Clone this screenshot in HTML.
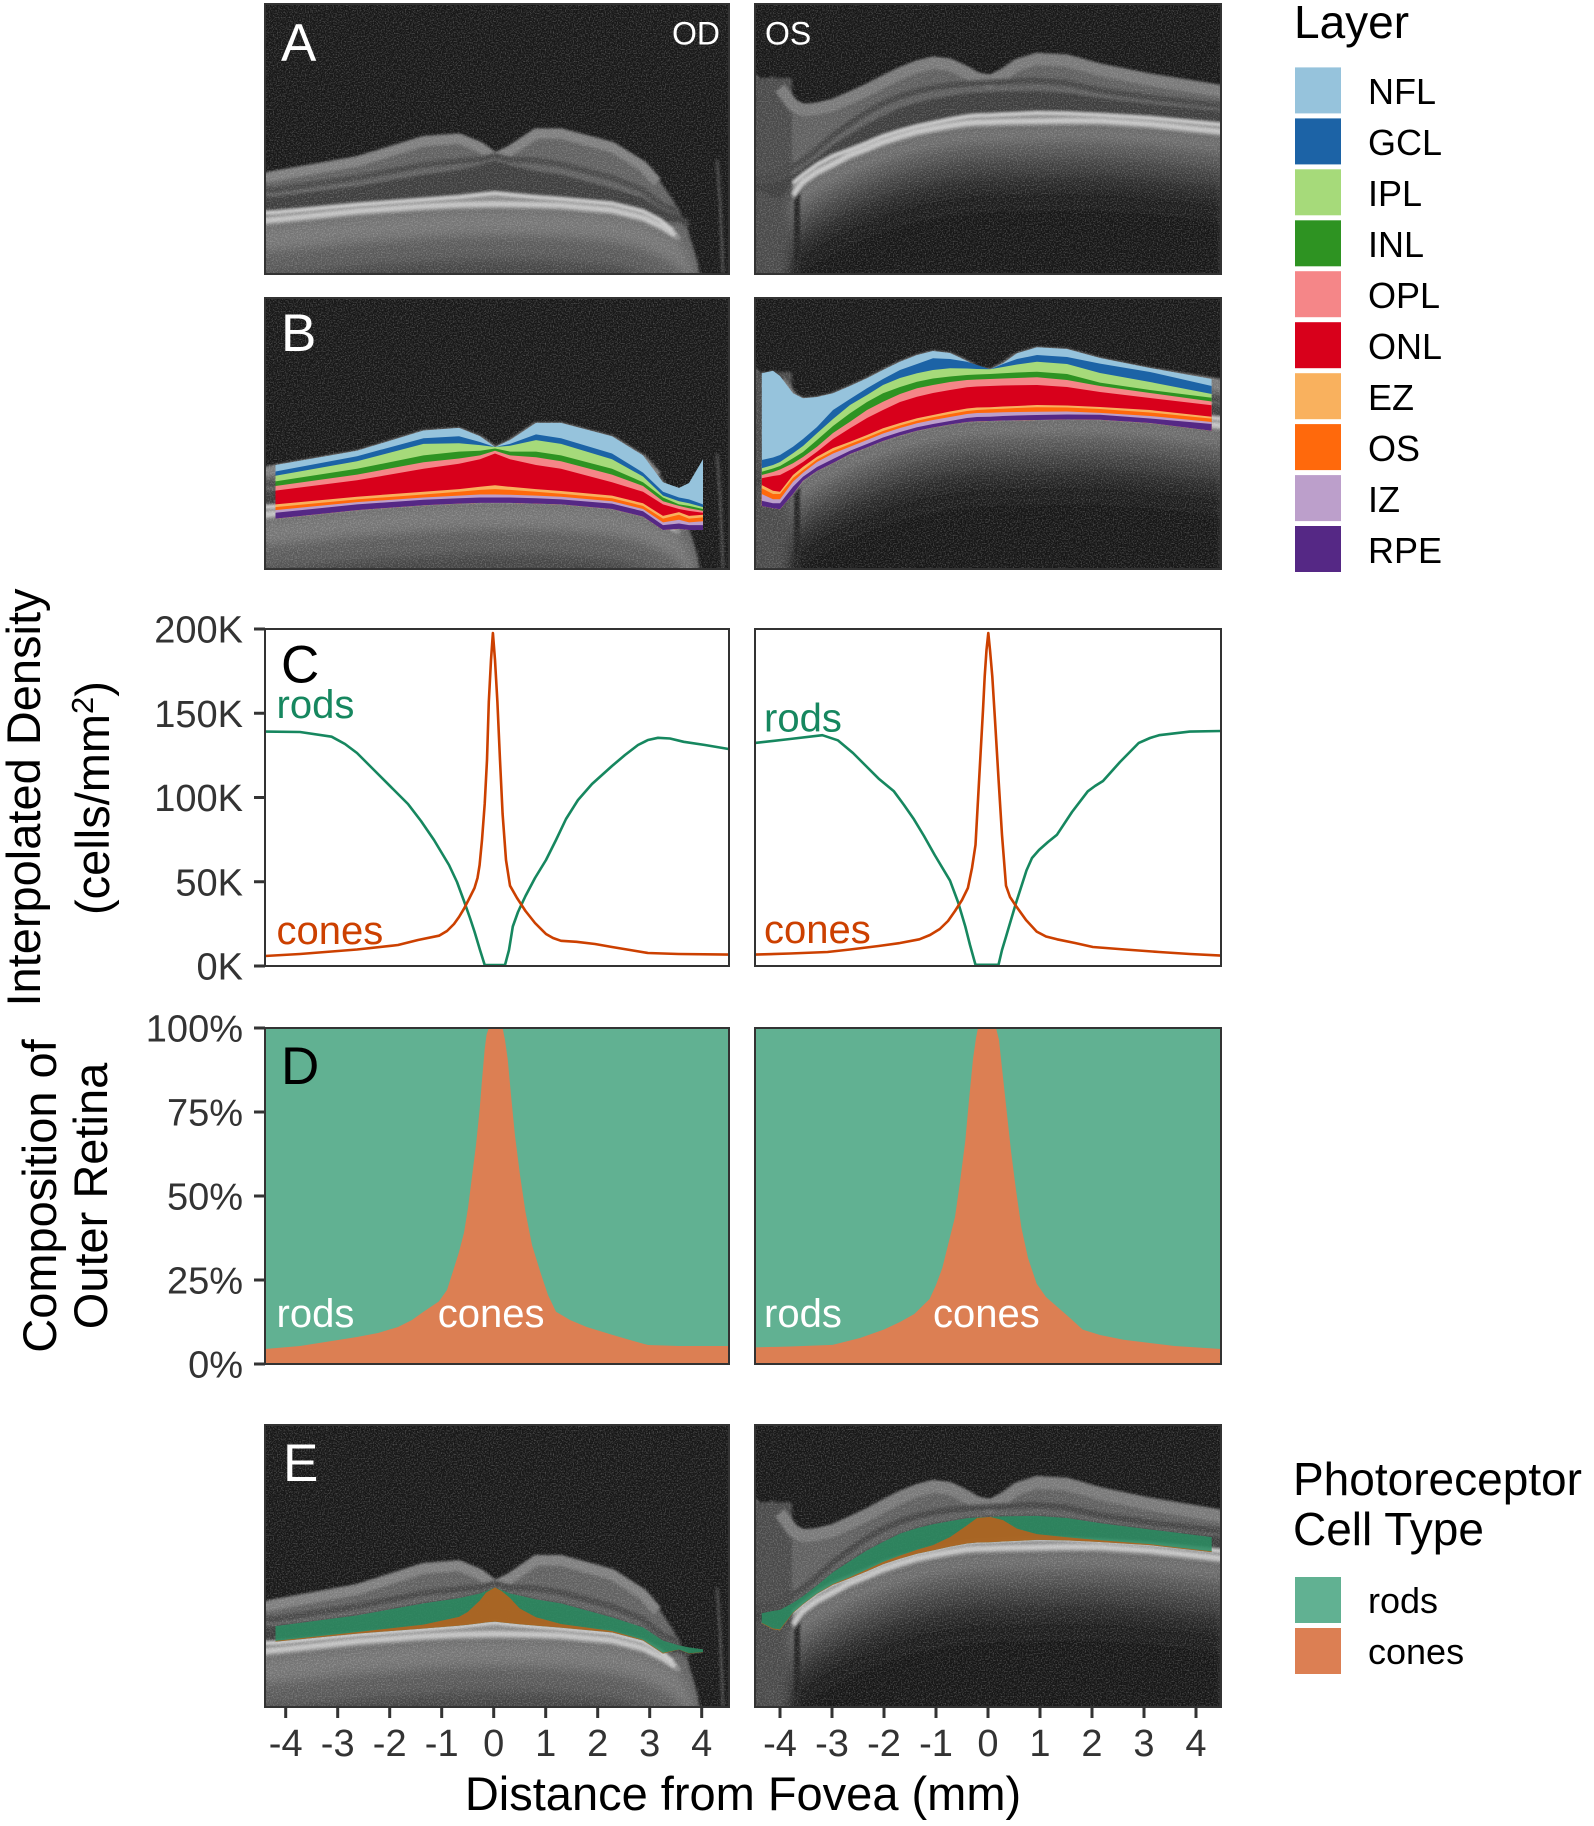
<!DOCTYPE html>
<html><head><meta charset="utf-8">
<style>
html,body{margin:0;padding:0;background:#fff;width:1594px;height:1826px;overflow:hidden}
svg{display:block;overflow:hidden}
text{font-family:"Liberation Sans",Arial,sans-serif}
</style></head>
<body>
<svg xmlns="http://www.w3.org/2000/svg" xmlns:xlink="http://www.w3.org/1999/xlink" width="1594" height="1826" viewBox="0 0 1594 1826">
<defs>
<filter id="nz" x="0" y="0" width="1" height="1">
  <feTurbulence type="fractalNoise" baseFrequency="0.75" numOctaves="2" seed="5"/>
  <feColorMatrix type="matrix" values="0 0 0 0 1  0 0 0 0 1  0 0 0 0 1  2.4 0 0 0 -1.05"/>
</filter>
<filter id="b1" x="-5%" y="-5%" width="110%" height="110%"><feGaussianBlur stdDeviation="1.2"/></filter>
<filter id="b5" x="-5%" y="-8%" width="110%" height="116%"><feGaussianBlur stdDeviation="5"/></filter>

<clipPath id="cAL"><rect x="265" y="4" width="464" height="270"/></clipPath>
<clipPath id="cAR"><rect x="755" y="4" width="466" height="270"/></clipPath>
<clipPath id="cBL"><rect x="265" y="298" width="464" height="271"/></clipPath>
<clipPath id="cBR"><rect x="755" y="298" width="466" height="271"/></clipPath>
<clipPath id="cCL"><rect x="265" y="629" width="464" height="337"/></clipPath>
<clipPath id="cCR"><rect x="755" y="629" width="466" height="337"/></clipPath>
<clipPath id="cEL"><rect x="265" y="1425" width="464" height="282"/></clipPath>
<clipPath id="cER"><rect x="755" y="1425" width="466" height="282"/></clipPath>

<clipPath id="clipLayOD"><path d="M275.5,518.6 L357,510.1 423.5,505.2 459,503.6 480,502.9 495,502.9 510,502.9 536,503.6 561,504.4 612,509 643,516.6 663,530 679,528.9 689,530 703,530 L703,300 L275.5,300 Z"/></clipPath>
<clipPath id="clipLayOS"><path d="M761.7,506 L773,508.3 780,509.3 793,494 803,480.7 817,471 833,463 850,454 867,447.5 883,441 900,435.5 917,430.7 933,427.5 950,424.5 967,422 977,421.3 990,421 1003,420.5 1017,420.3 1037,420 1067,419.5 1100,419.7 1150,423 1211.7,430.7 L1211.7,300 L761.7,300 Z"/></clipPath>

<path id="chODp" d="M260,226 L275.5,224.6 357,216.1 423.5,211.2 459,209.6 495,208.9 536,209.6 561,210.4 612,215 643,222.6 663,232 678,240 689,258 694,280 L260,280 Z"/>
<path id="chOSp" d="M790,204 L793,200 803,186.7 817,177 833,169 850,160 867,153.5 883,147 900,141.5 917,136.7 933,133.5 950,130.5 967,128 977,127.3 990,127 1003,126.5 1017,126.3 1037,126 1067,125.5 1100,125.7 1150,129 1225,137 L1225,280 L790,280 Z"/>

<!-- OD OCT image in panel-A coordinates -->
<g id="octOD">
  <rect x="260" y="0" width="480" height="300" fill="#171717"/>
  <g filter="url(#b1)">
    <path d="M260,174 L275.5,171 357,156.8 423.5,136.5 459,133.9 480,142.3 495,153 510,146.1 536,128.9 561,128.9 612,142.3 643,161.4 657,177 673,200 687,227 697,260 703,295 L260,295 Z" fill="#606060"/>
  </g>
  <g filter="url(#b5)">
    <use xlink:href="#chODp" href="#chODp" fill="#747474"/>
    <use xlink:href="#chODp" href="#chODp" fill="#5a5a5a" transform="translate(0,26)"/>
    <use xlink:href="#chODp" href="#chODp" fill="#444" transform="translate(0,50)"/>
  </g>
  <g filter="url(#b1)">
    <polyline points="260,174 275.5,171 357,156.8 423.5,136.5 459,133.9 480,142.3 495,153 510,146.1 536,128.9 561,128.9 612,142.3 643,161.4 657,177" transform="translate(0,5)" fill="none" stroke="#7e7e7e" stroke-width="10"/>
    <polyline points="260,190 275.5,189.7 357,177.7 423.5,164.9 459,161 480,159.1 495,155.7 510,159.5 536,160.5 561,164.3 612,177.7 643,190.1 663,205.4 679,211.2" fill="none" stroke="#464646" stroke-width="6"/>
    <polygon points="260,197 275.5,196.6 357,186.3 423.5,174.8 459,169.8 480,165.3 495,159.5 510,165.3 536,171 561,174.8 612,188.2 643,197.8 663,210.4 679,215 689,220 689,228 679,222 663,221.9 643,209.3 612,201.6 561,197 536,195.1 510,192.8 495,191.3 480,192.8 459,195.1 423.5,197.8 357,202.7 275.5,210.4 260,211" fill="#3e3e3e"/>
    <polygon points="260,211 275.5,210.4 357,202.7 423.5,197.8 459,195.1 480,192.8 495,191.3 510,192.8 536,195.1 561,197 612,201.6 643,209.3 660,218 673,228 681,237 678,241 663,232 643,222.6 612,215 561,210.4 536,209.6 495,208.9 459,209.6 423.5,211.2 357,216.1 275.5,224.6 260,226" fill="#8c8c8c"/>
    <polyline points="260,213 275.5,212.4 357,204.7 423.5,199.8 459,197.1 480,194.8 495,193.3 510,194.8 536,197.1 561,199 612,203.6 643,211.3 660,220 673,230" fill="none" stroke="#cfcfcf" stroke-width="3"/>
    <polyline points="260,221 275.5,219.6 357,211.1 423.5,206.2 459,204.6 495,203.9 536,204.6 561,205.4 612,210 643,217.6 663,227 675,235" fill="none" stroke="#c2c2c2" stroke-width="5"/>
    <polyline points="717,160 720,200 723,274" fill="none" stroke="#444" stroke-width="3"/>
  </g>
  <rect x="260" y="0" width="480" height="300" fill="#fff" filter="url(#nz)" opacity="0.28"/>
</g>

<!-- OS OCT image in panel-A coordinates -->
<g id="octOS">
  <rect x="750" y="0" width="480" height="300" fill="#171717"/>
  <g filter="url(#b1)">
    <path d="M750,73 L754,73 761.7,79.3 773,76.7 780,82 793,99.3 803,104.3 817,103 833,99.3 850,92 867,84.3 883,76 900,67.7 917,61 933,57 950,59 967,67 977,72.7 990,75.3 1003,69.3 1017,59.3 1037,53.3 1067,55 1100,64 1150,74 1225,86 L1225,295 L750,295 Z" fill="#5e5e5e"/>
    <rect x="750" y="78" width="42" height="215" fill="#4a4a4a"/>
  </g>
  <g filter="url(#b5)">
    <use xlink:href="#chOSp" href="#chOSp" fill="#6e6e6e"/>
    <use xlink:href="#chOSp" href="#chOSp" fill="#575757" transform="translate(0,16)"/>
    <use xlink:href="#chOSp" href="#chOSp" fill="#404040" transform="translate(0,32)"/>
    <use xlink:href="#chOSp" href="#chOSp" fill="#2c2c2c" transform="translate(0,48)"/>
    <use xlink:href="#chOSp" href="#chOSp" fill="#1e1e1e" transform="translate(0,64)"/>
    <use xlink:href="#chOSp" href="#chOSp" fill="#171717" transform="translate(0,85)"/>
  </g>
  <g filter="url(#b1)">
    <polyline points="797,190 797,290" fill="none" stroke="#222" stroke-width="6"/>
    <polyline points="780,82 793,99.3 803,104.3 817,103 833,99.3 850,92 867,84.3 883,76 900,67.7 917,61 933,57 950,59 967,67 977,72.7 990,75.3 1003,69.3 1017,59.3 1037,53.3 1067,55 1100,64 1150,74 1225,86" transform="translate(0,6)" fill="none" stroke="#787878" stroke-width="12"/>
    <polyline points="754,179.4 761.7,179.4 773,176.3 780,173.8 793,166.8 803,160.5 817,149.4 833,135.5 850,123.5 867,112 883,103.5 900,96.5 917,91 933,87.8 950,85.3 967,83.5 977,83 990,82.5 1003,81.9 1017,81.3 1037,80.5 1067,83 1100,90.3 1150,97.5 1225,106" fill="none" stroke="#444" stroke-width="6"/>
    <polygon points="754,184.3 761.7,184.3 773,182 780,181 793,174.3 803,168 817,157.7 833,145 850,134.3 867,124 883,116 900,108 917,102.7 933,99 950,96 967,93.3 977,92.5 990,92 1003,91.5 1017,91.3 1037,91 1067,93 1100,98 1150,104 1225,111.5 1225,123 1150,116 1100,113 1067,111.5 1037,111 1017,112 1003,112.5 990,113.3 977,113.5 967,114.5 950,117.5 933,121 917,124.3 900,129 883,134.3 867,141 850,147.7 833,154 817,162.7 803,172.7 793,181 780,197.7 773,196.7 761.7,191 754,191" fill="#3c3c3c"/>
    <polygon points="793,181 803,172.7 817,162.7 833,154 850,147.7 867,141 883,134.3 900,129 917,124.3 933,121 950,117.5 967,114.5 977,113.5 990,113.3 1003,112.5 1017,112 1037,111 1067,111.5 1100,113 1150,116 1225,123 1225,137 1150,129 1100,125.7 1067,125.5 1037,126 1017,126.3 1003,126.5 990,127 977,127.3 967,128 950,130.5 933,133.5 917,136.7 900,141.5 883,147 867,153.5 850,160 833,169 817,177 803,186.7 793,200" fill="#8a8a8a"/>
    <polyline points="793,183 803,174.7 817,164.7 833,156 850,149.7 867,143 883,136.3 900,131 917,126.3 933,123 950,119.5 967,116.5 977,115.5 990,115.3 1003,114.5 1017,114 1037,113 1067,113.5 1100,115 1150,118 1225,125" fill="none" stroke="#d0d0d0" stroke-width="3"/>
    <polyline points="793,195 803,181.7 817,172 833,164 850,155 867,148.5 883,142 900,136.5 917,131.7 933,128.5 950,125.5 967,123 977,122.3 990,122 1003,121.5 1017,121.3 1037,121 1067,120.5 1100,120.7 1150,124 1225,132" fill="none" stroke="#c4c4c4" stroke-width="5"/>
  </g>
  <rect x="750" y="0" width="480" height="300" fill="#fff" filter="url(#nz)" opacity="0.28"/>
</g>
</defs>

<!-- ===== Panel A ===== -->
<g clip-path="url(#cAL)"><use xlink:href="#octOD" href="#octOD"/></g>
<g clip-path="url(#cAR)"><use xlink:href="#octOS" href="#octOS"/></g>
<rect x="265" y="4" width="464" height="270" fill="none" stroke="#333" stroke-width="2"/>
<rect x="755" y="4" width="466" height="270" fill="none" stroke="#333" stroke-width="2"/>
<text x="281" y="60.7" font-size="53" fill="#fff">A</text>
<text x="720" y="44.3" font-size="32" fill="#fff" text-anchor="end">OD</text>
<text x="765" y="44.3" font-size="32" fill="#fff">OS</text>

<!-- ===== Panel B ===== -->
<g clip-path="url(#cBL)">
  <use xlink:href="#octOD" href="#octOD" transform="translate(0,294)"/>
  <g clip-path="url(#clipLayOD)">
    <path fill="#96C3DC" d="M275.5,560 L275.5,465 357,450.8 423.5,430.5 459,427.9 480,436.3 495,447 510,440.1 536,422.9 561,422.9 612,436.3 643,455.4 663,482.2 679,487.9 689,483 703,459.3 L703,560 Z"/>
    <path fill="#1C63A6" d="M275.5,560 L275.5,471.5 357,456.2 423.5,438.2 459,436.3 480,442 495,447 510,443.9 536,434.4 561,438.2 612,453.5 643,472.6 663,491.8 679,497.5 689,499.4 703,504.4 L703,560 Z"/>
    <path fill="#A6DA7A" d="M275.5,560 L275.5,475.7 357,461.2 423.5,443.9 459,443.2 480,445.1 495,447 510,445.8 536,440.1 561,443.9 612,459.3 643,476.5 663,495.6 679,501.3 689,503.3 703,507.1 L703,560 Z"/>
    <path fill="#2E9322" d="M275.5,560 L275.5,481.4 357,468.8 423.5,455.4 459,451.6 480,450.8 495,448.5 510,451.6 536,451.6 561,455.4 612,468.8 643,482.2 663,497.5 679,504.4 689,505.9 703,509 L703,560 Z"/>
    <path fill="#F58688" d="M275.5,560 L275.5,486 357,474.6 423.5,462.3 459,458.5 480,455.4 495,450.8 510,455.4 536,457.3 561,461.2 612,474.6 643,486 663,501.3 679,505.9 689,508.2 703,510.9 L703,560 Z"/>
    <path fill="#D8001B" d="M275.5,560 L275.5,490.6 357,480.3 423.5,468.8 459,463.8 480,459.3 495,453.5 510,459.3 536,465 561,468.8 612,482.2 643,491.8 663,504.4 679,509 689,510.9 703,512.8 L703,560 Z"/>
    <path fill="#F9B15E" d="M275.5,560 L275.5,504.4 357,496.7 423.5,491.8 459,489.1 480,486.8 495,485.3 510,486.8 536,489.1 561,491 612,495.6 643,503.3 663,515.9 679,512.1 689,515.9 703,514.7 L703,560 Z"/>
    <path fill="#FF690C" d="M275.5,560 L275.5,507.1 357,499.4 423.5,494.5 459,491.8 480,489.9 495,489.1 510,489.9 536,491.8 561,493.7 612,498.3 643,505.9 663,518.6 679,514.7 689,518.6 703,517.4 L703,560 Z"/>
    <path fill="#BC9FCB" d="M275.5,560 L275.5,510.1 357,502.1 423.5,497.5 459,495.6 480,494.5 495,494.5 510,494.8 536,495.6 561,496.7 612,501.3 643,509 663,522.4 679,519.7 689,522.4 703,521.2 L703,560 Z"/>
    <path fill="#552885" d="M275.5,560 L275.5,512.8 357,504.4 423.5,499.8 459,498.3 480,497.5 495,497.5 510,497.5 536,498.3 561,499.4 612,503.6 643,511.3 663,525.1 679,523.5 689,525.1 703,525.1 L703,560 Z"/>
  </g>
</g>
<g clip-path="url(#cBR)">
  <use xlink:href="#octOS" href="#octOS" transform="translate(0,294)"/>
  <g clip-path="url(#clipLayOS)">
    <path fill="#96C3DC" d="M761.7,560 L761.7,373.3 773,370.7 780,376 793,393.3 803,398.3 817,397 833,393.3 850,386 867,378.3 883,370 900,361.7 917,355 933,351 950,353 967,361 977,366.7 990,369.3 1003,363.3 1017,353.3 1037,347.3 1067,349 1100,358 1150,368 1211.7,379 L1211.7,560 Z"/>
    <path fill="#1C63A6" d="M761.7,560 L761.7,460 773,457.5 780,455 793,446.7 803,439 817,427 833,410 850,399 867,388.3 883,379 900,370 917,364 933,358.3 950,359 967,361.7 977,365 990,369.3 1003,364 1017,359 1037,355 1067,357 1100,363.6 1150,372 1211.7,386 L1211.7,560 Z"/>
    <path fill="#A6DA7A" d="M761.7,560 L761.7,468.3 773,465 780,462 793,453.3 803,446 817,433.3 833,419 850,405 867,395 883,385 900,378 917,373.3 933,370 950,368.3 967,368.5 977,369 990,369.3 1003,367 1017,364.5 1037,361.7 1067,364 1100,373 1150,382 1211.7,394 L1211.7,560 Z"/>
    <path fill="#2E9322" d="M761.7,560 L761.7,471.7 773,468.5 780,466 793,458.3 803,452 817,440 833,426 850,413.3 867,402 883,393.3 900,387 917,381.7 933,378.5 950,376.5 967,375 977,374.5 990,374 1003,373.3 1017,372.5 1037,371.7 1067,374 1100,382.6 1150,390 1211.7,397.7 L1211.7,560 Z"/>
    <path fill="#F58688" d="M761.7,560 L761.7,475 773,472 780,469.5 793,463.3 803,457 817,446.7 833,433 850,421.7 867,410 883,401.7 900,394 917,388.3 933,385 950,382 967,380 977,379.5 990,379 1003,378.5 1017,378 1037,377.3 1067,380 1100,386 1150,393 1211.7,401.5 L1211.7,560 Z"/>
    <path fill="#D8001B" d="M761.7,560 L761.7,478.3 773,476 780,475 793,468.3 803,462 817,451.7 833,439 850,428.3 867,418 883,410 900,402 917,396.7 933,393 950,390 967,387.3 977,386.5 990,386 1003,385.5 1017,385.3 1037,385 1067,387 1100,392 1150,398 1211.7,405.3 L1211.7,560 Z"/>
    <path fill="#F9B15E" d="M761.7,560 L761.7,485 773,490.7 780,491.7 793,475 803,466.7 817,456.7 833,448 850,441.7 867,435 883,428.3 900,423 917,418.3 933,415 950,411.5 967,408.5 977,407.5 990,407.3 1003,406.5 1017,406 1037,405 1067,405.5 1100,407 1150,410 1211.7,416.7 L1211.7,560 Z"/>
    <path fill="#FF690C" d="M761.7,560 L761.7,488.3 773,494 780,494 793,478 803,470 817,459.5 833,451 850,444 867,437.5 883,431 900,425.5 917,420.7 933,417.3 950,414 967,411 977,410 990,409.3 1003,408.7 1017,408 1037,407.3 1067,407.5 1100,409 1150,412.5 1211.7,418.6 L1211.7,560 Z"/>
    <path fill="#BC9FCB" d="M761.7,560 L761.7,494 773,499.3 780,499.3 793,481.7 803,472.7 817,462 833,453.5 850,446.7 867,440 883,433.5 900,428 917,423.3 933,420 950,417 967,414 977,413 990,412.7 1003,412.3 1017,412 1037,411.7 1067,411.5 1100,412.9 1150,416 1211.7,422 L1211.7,560 Z"/>
    <path fill="#552885" d="M761.7,560 L761.7,500.7 773,503.3 780,503.3 793,486.7 803,476.7 817,467 833,459 850,450.7 867,444 883,437.5 900,432 917,427.3 933,424 950,421 967,418 977,417 990,416.7 1003,416 1017,415.5 1037,415 1067,414.5 1100,414.8 1150,418.5 1211.7,424 L1211.7,560 Z"/>
  </g>
</g>
<rect x="265" y="298" width="464" height="271" fill="none" stroke="#333" stroke-width="2"/>
<rect x="755" y="298" width="466" height="271" fill="none" stroke="#333" stroke-width="2"/>
<text x="281" y="351" font-size="53" fill="#fff">B</text>

<!-- ===== Panel C ===== -->
<rect x="265" y="629" width="464" height="337" fill="#fff"/>
<rect x="755" y="629" width="466" height="337" fill="#fff"/>
<g clip-path="url(#cCL)" fill="none" stroke-width="2.6" stroke-linejoin="round">
  <polyline stroke="#16875F" points="265,731.6 300,732 331.6,736.7 345,744 357,753 375,771 393,789 408,804 421,821 434,840 449,865 457,882 464,901 470,918 474.5,931.6 480,950 484.7,965 505,965 509,950 512.8,926.5 518,912 525.5,896 535,878 546,860 556,840 566,819 578,800 592,784 602,775 612,766 625,755 638,745 648,740 658,737.8 670,738.5 683.7,741.8 705,745 728.6,749"/>
  <polyline stroke="#CC4000" points="265,956 300,954 357,949.5 398,945 410,942 418,940 439,935.7 447,931 454,924 459,917 464,908.7 469,899 474.5,888 477.5,878 479.6,865 482,840 484.7,804 487,760 488.8,702 491,660 492.9,633 495,660 497.4,702 500,760 502.6,814 506,860 510,885.7 517,898 525.5,911 535,923 546,934 553,938 561,940.8 576.5,941.8 595,944 612,947 630,950 648,953 678.6,954 728.6,954.6"/>
</g>
<g clip-path="url(#cCR)" fill="none" stroke-width="2.6" stroke-linejoin="round">
  <polyline stroke="#16875F" points="755,742.9 790,739 822.4,735.2 837.8,740.3 853,753 866,766 878.6,778.6 893.9,791.3 904,805 914,819.4 924,836 934.7,855 950,880.6 958,902 965.3,926.5 970,945 975.5,964.8 998.5,964.8 1002,950 1006,936.7 1016,903 1026.5,870.4 1032,858 1039,850 1048,842 1057,834.7 1072,812 1087.8,791.3 1095,786 1103,781 1120,762 1138.8,742.9 1150,738 1159,735.2 1189.8,731.6 1221,731"/>
  <polyline stroke="#CC4000" points="755,954.6 790,953.5 827.5,952 850,949.5 878.6,946 900,943 919.4,939.3 930,935 939.8,929 948,921 955,911 962,900 967.9,888 972,868 975.5,844.9 978,800 980.6,753 983,710 984.7,676.5 986.5,650 988.3,633 990,650 992.3,676.5 995,720 998.5,778.6 1002,835 1006,885.7 1010,897 1016,906 1026,920 1036.7,931.6 1046,936.5 1057,939.3 1075,943 1092.9,947 1125,949.5 1159,952 1190,954 1221,955.6"/>
</g>
<rect x="265" y="629" width="464" height="337" fill="none" stroke="#333" stroke-width="2"/>
<rect x="755" y="629" width="466" height="337" fill="none" stroke="#333" stroke-width="2"/>
<text x="281" y="682.6" font-size="53" fill="#000">C</text>
<text x="276.5" y="718" font-size="40" fill="#16875F">rods</text>
<text x="276.5" y="944" font-size="40" fill="#CC4000">cones</text>
<text x="764" y="731.6" font-size="40" fill="#16875F">rods</text>
<text x="764" y="943" font-size="40" fill="#CC4000">cones</text>

<!-- ===== Panel D ===== -->
<rect x="265" y="1028" width="464" height="336" fill="#61B192"/>
<rect x="755" y="1028" width="466" height="336" fill="#61B192"/>
<polygon fill="#DC7F53" points="265,1364 265,1349 300,1346 357,1337 378,1333 398,1327 412,1320 423.5,1311.7 438.8,1301.5 447,1290 454,1268 459,1252 464,1232.6 468,1208 472,1176.5 476,1145 479.6,1110 482,1080 484.7,1049 486.5,1035 488.8,1028 502.6,1028 505,1040 507.7,1059 511,1095 515,1135.7 520,1175 525.5,1212 532,1245 540.8,1273.5 548,1295 556,1311.7 570,1320 586.7,1327 612,1334.7 630,1340 648,1345 678.6,1346 729,1346 729,1364"/>
<polygon fill="#DC7F53" points="755,1364 755,1347.4 790,1346.5 832.6,1344.9 860,1338 883.7,1329.6 900,1322 914.3,1314 929.6,1299 936,1285 942.3,1268 948,1245 955,1217 960,1182 965.3,1140.8 969,1100 973,1059 976,1038 978,1028 996,1028 999,1040 1001,1059 1006,1105 1011,1151 1016,1190 1021.4,1227.6 1028,1258 1036.7,1283.7 1046,1297 1057,1306.6 1070,1318 1082.7,1329.6 1100,1335 1123.5,1339.8 1150,1343 1174.5,1346 1221,1349 1221,1364"/>
<rect x="265" y="1028" width="464" height="336" fill="none" stroke="#333" stroke-width="2"/>
<rect x="755" y="1028" width="466" height="336" fill="none" stroke="#333" stroke-width="2"/>
<text x="281" y="1084" font-size="53" fill="#000">D</text>
<text x="276.5" y="1327" font-size="40" fill="#fff">rods</text>
<text x="437.8" y="1327" font-size="40" fill="#fff">cones</text>
<text x="764" y="1327" font-size="40" fill="#fff">rods</text>
<text x="933" y="1327" font-size="40" fill="#fff">cones</text>

<!-- ===== Panel E ===== -->
<g clip-path="url(#cEL)">
  <use xlink:href="#octOD" href="#octOD" transform="translate(0,1425) scale(1,1.0444) translate(0,-4)"/>
  <g transform="translate(0,1425) scale(1,1.0444) translate(0,-298)">
    <polygon fill="#2b8c62" opacity="0.88" points="275.5,490.6 357,480.3 423.5,468.8 459,463.8 467.7,462 480,459.3 486,457 495,453.5 501.5,456 510,459.3 519.7,461.4 536,465 561,468.8 612,482.2 643,491.8 663,504.4 679,509 689,510.9 703,512.8 703,515.7 689,516.9 679,513.1 663,516.9 643,504.3 612,496.6 561,492 536,490.1 519.7,488.8 510,487.8 501.5,487 495,486.3 486,487 480,487.8 467.7,489.2 459,490.1 423.5,492.8 357,497.7 275.5,505.4"/>
    <polygon fill="#b3631f" opacity="0.92" points="275.5,504.7 357,496.3 423.5,489.1 459,481.7 467.7,477 480,465.9 486,458.5 495,453.5 501.5,456.9 510,463.6 519.7,473.7 536,482.1 561,488.5 612,495.3 643,503.6 663,516.2 679,512.9 689,516.6 703,515.5 703,515.7 689,516.9 679,513.1 663,516.9 643,504.3 612,496.6 561,492 536,490.1 519.7,488.8 510,487.8 501.5,487 495,486.3 486,487 480,487.8 467.7,489.2 459,490.1 423.5,492.8 357,497.7 275.5,505.4"/>
  </g>
</g>
<g clip-path="url(#cER)">
  <use xlink:href="#octOS" href="#octOS" transform="translate(0,1425) scale(1,1.0444) translate(0,-4)"/>
  <g transform="translate(0,1425) scale(1,1.0444) translate(0,-298)">
    <polygon fill="#2b8c62" opacity="0.88" points="761.7,478.3 773,476 780,475 793,468.3 803,462 817,451.7 833,439 850,428.3 867,418 883,410 900,402 917,396.7 933,393 950,390 967,387.3 977,386.5 990,386 1003,385.5 1017,385.3 1037,385 1067,387 1100,392 1150,398 1211.7,405.3 1211.7,419.7 1150,413 1100,410 1067,408.5 1037,408 1017,409 1003,409.5 990,410.3 977,410.5 967,411.5 950,414.5 933,418 917,421.3 900,426 883,431.3 867,438 850,444.7 833,451 817,459.7 803,469.7 793,478 780,494.7 773,493.7 761.7,488"/>
    <polygon fill="#b3631f" opacity="0.92" points="761.7,487.5 773,492.8 780,493.7 793,477.5 803,469.3 817,459.3 833,450.3 850,443.6 867,436.4 883,429.2 900,423.1 917,417.5 933,413 950,405.4 967,394.1 977,387 990,386 1003,389.1 1017,397.2 1037,402.5 1067,405.5 1100,408.4 1150,412.1 1211.7,419 1211.7,419.7 1150,413 1100,410 1067,408.5 1037,408 1017,409 1003,409.5 990,410.3 977,410.5 967,411.5 950,414.5 933,418 917,421.3 900,426 883,431.3 867,438 850,444.7 833,451 817,459.7 803,469.7 793,478 780,494.7 773,493.7 761.7,488"/>
  </g>
</g>
<rect x="265" y="1425" width="464" height="282" fill="none" stroke="#333" stroke-width="2"/>
<rect x="755" y="1425" width="466" height="282" fill="none" stroke="#333" stroke-width="2"/>
<text x="283" y="1481" font-size="53" fill="#fff">E</text>

<!-- ===== Y axes ===== -->
<g stroke="#333" stroke-width="3">
  <line x1="254" y1="629" x2="265" y2="629"/>
  <line x1="254" y1="713.25" x2="265" y2="713.25"/>
  <line x1="254" y1="797.5" x2="265" y2="797.5"/>
  <line x1="254" y1="881.75" x2="265" y2="881.75"/>
  <line x1="254" y1="966" x2="265" y2="966"/>
  <line x1="254" y1="1028" x2="265" y2="1028"/>
  <line x1="254" y1="1112" x2="265" y2="1112"/>
  <line x1="254" y1="1196" x2="265" y2="1196"/>
  <line x1="254" y1="1280" x2="265" y2="1280"/>
  <line x1="254" y1="1364" x2="265" y2="1364"/>
</g>
<g font-size="38" fill="#333" text-anchor="end">
  <text x="243" y="642.5">200K</text>
  <text x="243" y="726.8">150K</text>
  <text x="243" y="811">100K</text>
  <text x="243" y="895.3">50K</text>
  <text x="243" y="979.5">0K</text>
  <text x="243" y="1041.5">100%</text>
  <text x="243" y="1125.5">75%</text>
  <text x="243" y="1209.5">50%</text>
  <text x="243" y="1293.5">25%</text>
  <text x="243" y="1377.5">0%</text>
</g>
<text transform="translate(40,797.5) rotate(-90)" text-anchor="middle" font-size="47" fill="#000">Interpolated Density</text>
<text transform="translate(109,798) rotate(-90)" text-anchor="middle" font-size="47" fill="#000">(cells/mm<tspan font-size="31" dy="-16">2</tspan><tspan dy="16">)</tspan></text>
<text transform="translate(56,1196) rotate(-90)" text-anchor="middle" font-size="47" fill="#000">Composition of</text>
<text transform="translate(107,1196) rotate(-90)" text-anchor="middle" font-size="47" fill="#000">Outer Retina</text>

<!-- ===== X axis ===== -->
<g stroke="#333" stroke-width="3">
  <line x1="285.7" y1="1707" x2="285.7" y2="1718"/>
  <line x1="337.7" y1="1707" x2="337.7" y2="1718"/>
  <line x1="389.7" y1="1707" x2="389.7" y2="1718"/>
  <line x1="441.7" y1="1707" x2="441.7" y2="1718"/>
  <line x1="493.7" y1="1707" x2="493.7" y2="1718"/>
  <line x1="545.7" y1="1707" x2="545.7" y2="1718"/>
  <line x1="597.7" y1="1707" x2="597.7" y2="1718"/>
  <line x1="649.7" y1="1707" x2="649.7" y2="1718"/>
  <line x1="701.7" y1="1707" x2="701.7" y2="1718"/>
  <line x1="780" y1="1707" x2="780" y2="1718"/>
  <line x1="832" y1="1707" x2="832" y2="1718"/>
  <line x1="884" y1="1707" x2="884" y2="1718"/>
  <line x1="936" y1="1707" x2="936" y2="1718"/>
  <line x1="988" y1="1707" x2="988" y2="1718"/>
  <line x1="1040" y1="1707" x2="1040" y2="1718"/>
  <line x1="1092" y1="1707" x2="1092" y2="1718"/>
  <line x1="1144" y1="1707" x2="1144" y2="1718"/>
  <line x1="1196" y1="1707" x2="1196" y2="1718"/>
</g>
<g font-size="38" fill="#333" text-anchor="middle">
  <text x="285.7" y="1756">-4</text>
  <text x="337.7" y="1756">-3</text>
  <text x="389.7" y="1756">-2</text>
  <text x="441.7" y="1756">-1</text>
  <text x="493.7" y="1756">0</text>
  <text x="545.7" y="1756">1</text>
  <text x="597.7" y="1756">2</text>
  <text x="649.7" y="1756">3</text>
  <text x="701.7" y="1756">4</text>
  <text x="780" y="1756">-4</text>
  <text x="832" y="1756">-3</text>
  <text x="884" y="1756">-2</text>
  <text x="936" y="1756">-1</text>
  <text x="988" y="1756">0</text>
  <text x="1040" y="1756">1</text>
  <text x="1092" y="1756">2</text>
  <text x="1144" y="1756">3</text>
  <text x="1196" y="1756">4</text>
</g>
<text x="743" y="1810" font-size="47" fill="#000" text-anchor="middle">Distance from Fovea (mm)</text>

<!-- ===== Legend: Layer ===== -->
<text x="1294" y="38" font-size="46" fill="#000">Layer</text>
<rect x="1295" y="67.4" width="46" height="46" fill="#96C3DC"/>
<rect x="1295" y="118.4" width="46" height="46" fill="#1C63A6"/>
<rect x="1295" y="169.3" width="46" height="46" fill="#A6DA7A"/>
<rect x="1295" y="220.3" width="46" height="46" fill="#2E9322"/>
<rect x="1295" y="271.2" width="46" height="46" fill="#F58688"/>
<rect x="1295" y="322.2" width="46" height="46" fill="#D8001B"/>
<rect x="1295" y="373.2" width="46" height="46" fill="#F9B15E"/>
<rect x="1295" y="424.1" width="46" height="46" fill="#FF690C"/>
<rect x="1295" y="475.1" width="46" height="46" fill="#BC9FCB"/>
<rect x="1295" y="526" width="46" height="46" fill="#552885"/>
<g font-size="36" fill="#000">
  <text x="1368" y="104">NFL</text>
  <text x="1368" y="155">GCL</text>
  <text x="1368" y="206">IPL</text>
  <text x="1368" y="257">INL</text>
  <text x="1368" y="308">OPL</text>
  <text x="1368" y="359">ONL</text>
  <text x="1368" y="410">EZ</text>
  <text x="1368" y="461">OS</text>
  <text x="1368" y="512">IZ</text>
  <text x="1368" y="563">RPE</text>
</g>

<!-- ===== Legend: Photoreceptor ===== -->
<text x="1293" y="1495" font-size="46" fill="#000">Photoreceptor</text>
<text x="1293" y="1545" font-size="46" fill="#000">Cell Type</text>
<rect x="1295" y="1577" width="46" height="46" fill="#61B192"/>
<rect x="1295" y="1628" width="46" height="46" fill="#DC7F53"/>
<text x="1368" y="1613" font-size="36" fill="#000">rods</text>
<text x="1368" y="1664" font-size="36" fill="#000">cones</text>
</svg>
</body></html>
